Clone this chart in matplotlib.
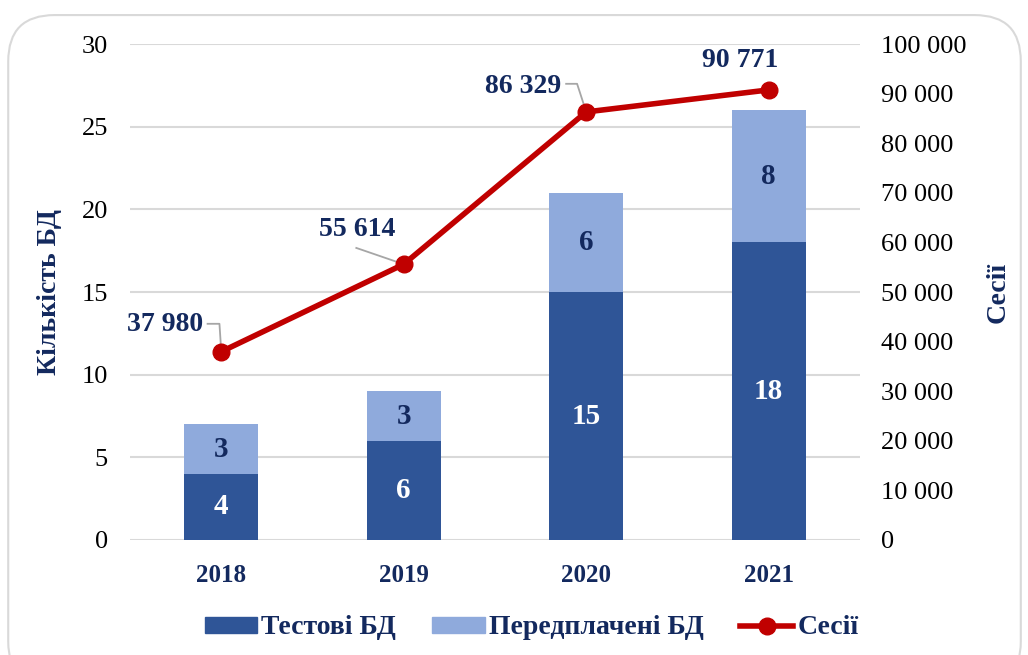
import matplotlib.pyplot as plt
from matplotlib.patches import FancyBboxPatch
from matplotlib.lines import Line2D
from matplotlib.patches import Patch
import numpy as np

years = ['2018', '2019', '2020', '2021']
test_db = [4, 6, 15, 18]
paid_db = [3, 3, 6, 8]
sessions = [37980, 55614, 86329, 90771]

dark = '#2f5597'
light = '#8faadc'
navy = '#13295e'
red = '#c00000'
leader = '#a6a6a6'

plt.rcParams['font.family'] = ['Liberation Serif', 'DejaVu Serif']

fig = plt.figure(figsize=(10.28, 6.55), dpi=100)
fig.patches.append(FancyBboxPatch((0.008, -0.05), 0.985, 1.027, boxstyle='round,pad=0,rounding_size=0.045',
                                  transform=fig.transFigure, fc='white', ec='#d9d9d9', lw=1.5,
                                  mutation_aspect=1028 / 655))
ax = fig.add_axes([0.1265, 0.1756, 0.71, 0.757])
ax.set_zorder(2)
ax.patch.set_visible(False)

x = np.arange(len(years))
w = 0.405
ax.bar(x, test_db, w, color=dark, zorder=2)
ax.bar(x, paid_db, w, bottom=test_db, color=light, zorder=2)
for i in range(len(years)):
    ax.text(x[i], test_db[i] / 2, str(test_db[i]), ha='center', va='center',
            color='white', fontsize=21, fontweight='bold', zorder=3)
    ax.text(x[i], test_db[i] + paid_db[i] / 2, str(paid_db[i]), ha='center', va='center',
            color=navy, fontsize=21, fontweight='bold', zorder=3)

ax.set_xlim(-0.5, 3.5)
ax.set_ylim(0, 30)
ax.set_yticks(range(0, 31, 5))
ax.set_xticks(x)
ax.set_xticklabels(years, fontweight='bold', color=navy)
ax.grid(axis='y', color='#d9d9d9', lw=1.5, zorder=0)
ax.set_axisbelow(True)
for s in ax.spines.values():
    s.set_visible(False)
ax.tick_params(axis='y', length=0, labelsize=19, pad=16)
ax.tick_params(axis='x', length=0, labelsize=18, pad=17)
ax.set_ylabel('Кількість БД', fontsize=20, fontweight='bold', color=navy, labelpad=14)

ax2 = ax.twinx()
ax2.set_zorder(3)
ax2.set_ylim(0, 100000)
ax2.set_yticks(range(0, 100001, 10000))
ax2.set_yticklabels([f'{v:,}'.replace(',', ' ') for v in range(0, 100001, 10000)])
ax2.tick_params(axis='y', length=0, labelsize=19, pad=15)
for s in ax2.spines.values():
    s.set_visible(False)
ax2.plot(x, sessions, color=red, lw=4, marker='o', ms=12, zorder=4)
ax2.set_ylabel('Сесії', fontsize=20, fontweight='bold', color=navy, labelpad=14)

# label positions (data coords) and leader line elbows
label_pos = [(-0.308, 43500), (0.744, 62600), (1.653, 91400), (2.842, 96800)]
leaders = [[(-0.075, 43600), (-0.01, 43600)],
           [(0.74, 58900)],
           [(1.89, 92000), (1.95, 92000)],
           []]
for i, v in enumerate(sessions):
    lbl = f'{v:,}'.replace(',', ' ')
    tx, ty = label_pos[i]
    ax2.text(tx, ty, lbl, ha='center', va='center', fontsize=20, fontweight='bold', color=navy, zorder=5)
    pts = leaders[i]
    if pts:
        pts = pts + [(x[i], v)]
        ax2.plot([p[0] for p in pts], [p[1] for p in pts], color=leader, lw=1.3, zorder=3)

handles = [Patch(color=dark), Patch(color=light),
           Line2D([0], [0], color=red, lw=4, marker='o', ms=12)]
leg = fig.legend(handles, ['Тестові БД', 'Передплачені БД', 'Сесії'], loc='lower center',
                 bbox_to_anchor=(0.517, -0.016), ncol=3, frameon=False,
                 prop={'size': 20, 'weight': 'bold'}, handlelength=1.9, handleheight=0.5,
                 columnspacing=1.3, handletextpad=0.15)
for t in leg.get_texts():
    t.set_color(navy)

fig.savefig('out.png', dpi=100)
